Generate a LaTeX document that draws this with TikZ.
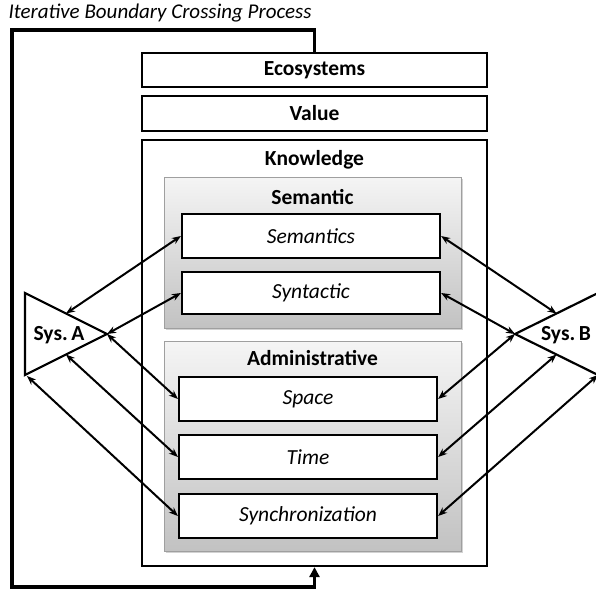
\documentclass[tikz,border=0pt]{standalone}
\usepackage{fontspec}
\setmainfont{Carlito}
\usetikzlibrary{arrows.meta,calc,shadows}
\begin{document}
\begin{tikzpicture}[x=1pt,y=-1pt,
  box/.style={draw,line width=2.2pt,fill=white,inner sep=0pt},
  group/.style={draw=gray!75,line width=0.7pt,top color=gray!8,bottom color=gray!48,
    drop shadow={opacity=0.35,shadow xshift=1.5pt,shadow yshift=-1.5pt},inner sep=0pt},
  bold/.style={font=\fontsize{21.5}{25}\selectfont\bfseries},
  ital/.style={font=\fontsize{21.5}{25}\selectfont\itshape},
  link/.style={line width=2pt,{Stealth[length=9pt,width=7pt]}-{Stealth[length=9pt,width=7pt]}},
  tri/.style={line width=2.2pt,line join=miter},
  loopline/.style={line width=3.4pt,-{Triangle[length=10pt,width=10pt]}}]
\useasboundingbox (0,0) rectangle (596,592);

% title
\node[anchor=west,font=\fontsize{21}{25}\selectfont\itshape] (title) at (5,13) {Iterative Boundary Crossing Process};

% outer layers
\node[box,minimum width=345pt,minimum height=34pt] (eco) at (314.5,70) {};
\node[bold] at (eco.center) {Ecosystems};
\node[box,minimum width=345pt,minimum height=35pt] (val) at (314.5,113.5) {};
\node[bold] at (val.center) {Value};
\node[box,minimum width=345pt,minimum height=426pt] (kn) at (314.5,353) {};
\node[bold] (kntxt) at (314.5,160) {Knowledge};

% semantic group
\node[group,minimum width=297pt,minimum height=151pt] (sem) at (312.5,252.5) {};
\node[bold] (semtxt) at (312.5,197) {Semantic};
\node[box,minimum width=258pt,minimum height=44pt] (sems) at (311,236) {};
\node[ital] at (sems.center) {Semantics};
\node[box,minimum width=258pt,minimum height=42pt] (syn) at (311,293) {};
\node[ital] at (syn.center) {Syntactic};

% administrative group
\node[group,minimum width=297pt,minimum height=210pt] (adm) at (312.5,446) {};
\node[bold] (admtxt) at (312.5,358) {Administrative};
\node[box,minimum width=258pt,minimum height=44pt] (spc) at (308,399) {};
\node[ital] at (spc.center) {Space};
\node[box,minimum width=258pt,minimum height=44pt] (tim) at (308,457) {};
\node[ital] at (tim.center) {Time};
\node[box,minimum width=258pt,minimum height=44pt] (syc) at (308,516) {};
\node[ital] at (syc.center) {Synchronization};

% system A
\coordinate (a1) at (25,293);
\coordinate (a2) at (25,375);
\coordinate (a3) at (107,334);
\draw[tri] (a1) -- (a3) -- (a2) -- cycle;
\node[bold] (sysa) at (59,335) {Sys.\,A};

% system B
\coordinate (b1) at (598,293);
\coordinate (b2) at (598,375);
\coordinate (b3) at (515,334);
\draw[tri] (b1) -- (b3) -- (b2) -- cycle;
\node[bold] (sysb) at (566,335) {Sys.\,B};

% links to system A
\draw[link] ($(a1)!0.5!(a3)$) -- (sems.west);
\draw[link] (a3) -- (syn.west);
\draw[link] (a3) -- (spc.west);
\draw[link] ($(a2)!0.5!(a3)$) -- (tim.west);
\draw[link] ([shift={(2,1)}]a2) -- (syc.west);

% links to system B
\draw[link] ($(b1)!0.5!(b3)$) -- (sems.east);
\draw[link] (b3) -- (syn.east);
\draw[link] (b3) -- (spc.east);
\draw[link] ($(b2)!0.5!(b3)$) -- (tim.east);
\draw[link] (b2) -- (syc.east);

% iteration loop
\coordinate (ltop) at (12,30);
\coordinate (lbot) at (12,587);
\draw[loopline,line join=miter] (eco.north) |- (ltop) -- (lbot) -| (kn.south);
\end{tikzpicture}
\end{document}
